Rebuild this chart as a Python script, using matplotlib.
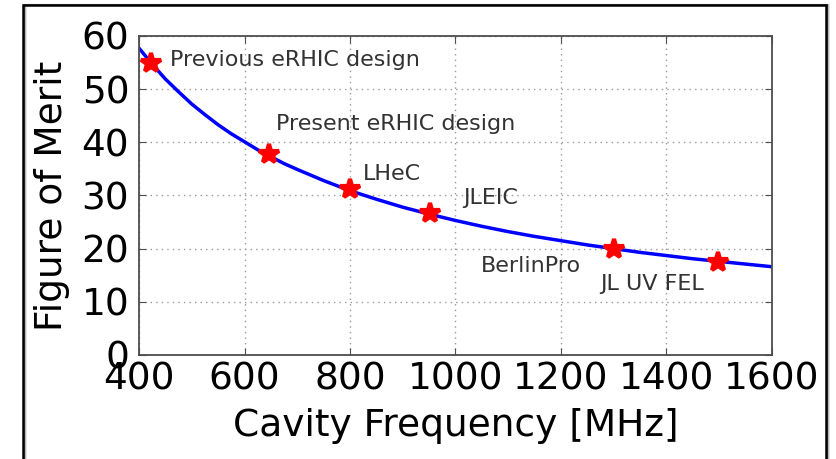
import matplotlib.pyplot as plt
from matplotlib.patches import Rectangle

# curve (MHz, figure of merit)
curve_freq = [400, 425, 450, 475, 500, 525, 550, 575, 600, 625, 650, 675, 700, 750, 800,
              850, 900, 950, 1000, 1050, 1100, 1150, 1200, 1250, 1300, 1350, 1400,
              1450, 1500, 1550, 1600]
curve_fom = [57.7, 54.7, 51.9, 49.5, 47.2, 45.2, 43.3, 41.6, 40.1, 38.6, 37.3, 36.0, 34.9,
             32.8, 30.9, 29.3, 27.8, 26.5, 25.3, 24.2, 23.2, 22.3, 21.5, 20.7, 20.0,
             19.3, 18.7, 18.1, 17.6, 17.1, 16.6]

# machines
names = ['Previous eRHIC design', 'Present eRHIC design', 'LHeC', 'JLEIC',
         'BerlinPro', 'JL UV FEL']
freq = [422, 647, 800, 952, 1300, 1497]
fom = [55.0, 37.8, 31.2, 26.7, 20.0, 17.5]

# label anchor points (data coords)
label_x = [458, 660, 825, 1014, 1048, 1274]
label_y = [55.5, 43.4, 34.0, 29.5, 16.7, 13.4]

fig = plt.figure(figsize=(8.36, 4.59), dpi=100)
ax = fig.add_axes([0.1663, 0.2266, 0.7571, 0.695])

ax.plot(curve_freq, curve_fom, color='blue', lw=2.5, zorder=2)
ax.plot(freq, fom, ls='none', marker='*', ms=15, color='red',
        mec='red', mew=3, zorder=3)

for name, x, y in zip(names, label_x, label_y):
    ax.text(x, y, name, fontsize=16, color='#333333', ha='left', va='center')

ax.set_xlim(400, 1600)
ax.set_ylim(0, 60)
ax.set_xticks(range(400, 1601, 200))
ax.set_yticks(range(0, 61, 10))
ax.grid(True, ls=(0, (1, 3)), color='0.6', lw=1)
ax.tick_params(direction='in', top=True, right=True, labelsize=27, length=5,
               color='0.3')
ax.tick_params(axis='y', pad=7)
ax.tick_params(axis='x', pad=5)
for s in ax.spines.values():
    s.set_color('0.3')
    s.set_linewidth(1.3)

ax.set_xlabel('Cavity Frequency [MHz]', fontsize=27, labelpad=7)
ax.set_ylabel('Figure of Merit', fontsize=27, labelpad=8)

# screenshot frame with a soft shadow on the right
for i, a in enumerate([0.35, 0.2, 0.1]):
    fig.add_artist(Rectangle((23 / 836 + (i + 1) / 836, -0.1),
                             (826 - 23) / 836, 1.1 - 5 / 459,
                             transform=fig.transFigure, fill=False,
                             ec=(0, 0, 0, a), lw=1.5))
fig.add_artist(Rectangle((23 / 836, -0.1), (826 - 23) / 836, 1.1 - 5 / 459,
                         transform=fig.transFigure, fill=False, ec='black', lw=1.8))

fig.savefig('out.png', dpi=100)
